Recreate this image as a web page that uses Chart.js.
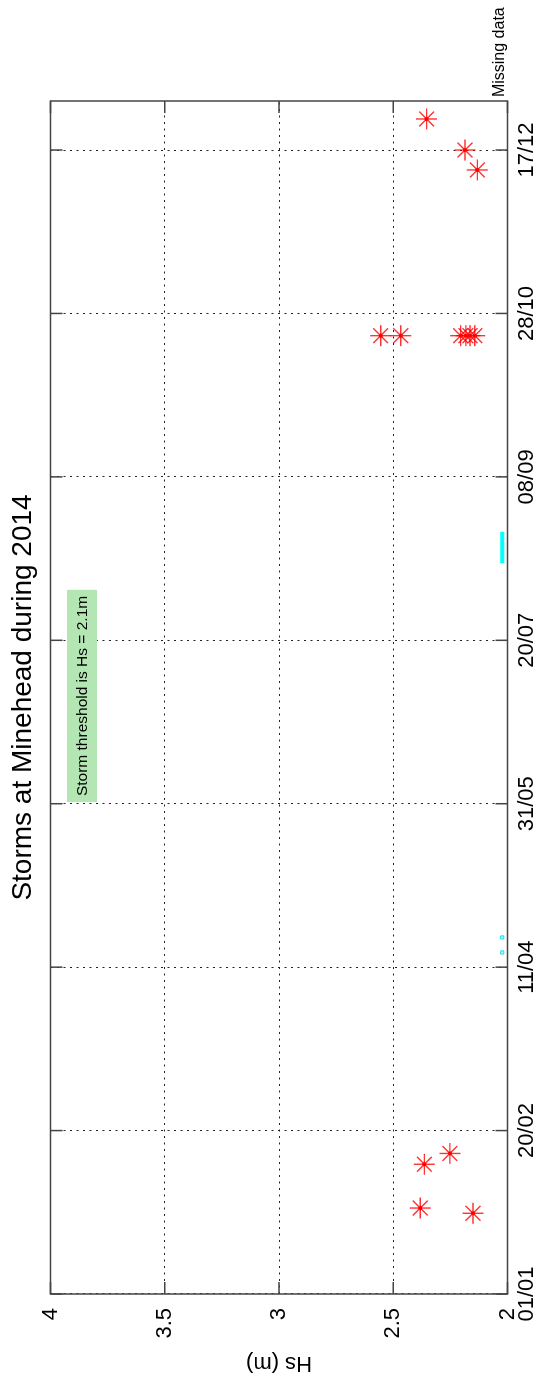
<!DOCTYPE html>
<html lang="en">
<head>
<meta charset="UTF-8" />
<script src="https://cdn.jsdelivr.net/npm/chart.js@4.4.1/dist/chart.umd.min.js"></script>
<style>
	html, body { margin: 0; padding: 0; background: #fff; overflow: hidden; }
	body { width: 542px; height: 1376px; position: relative; }
	/* the figure is drawn landscape and turned a quarter turn */
	#wrap { position: absolute; left: 0; top: 0; width: 1376px; height: 542px;
		transform-origin: 0 0; transform: translate(0, 1376px) rotate(-90deg); }
</style>
</head>
<body>
<div id="wrap"><canvas id="c" width="1376" height="542"></canvas></div>
<script>
// days counted from 01/01/2014
const dayTicks = [0, 50, 100, 150, 200, 250, 300, 350]
const dayLabels = ['01/01', '20/02', '11/04', '31/05', '20/07', '08/09', '28/10', '17/12']
const hsTicks = [2, 2.5, 3, 3.5, 4]
const hsLabels = ['2', '2.5', '3', '3.5', '4']

// storm peaks (Hs above threshold)
const stormDays = [24.7, 26.3, 39.7, 43.0, 293.2, 293.2, 293.2, 293.2, 293.2, 293.2, 343.9, 350.0, 359.5]
const stormHs = [2.151, 2.382, 2.364, 2.252, 2.555, 2.467, 2.205, 2.182, 2.164, 2.143, 2.132, 2.186, 2.354]

// gaps in the record
const missingDays = [104.5, 109.1]
const missingRunStart = [223.6]
const missingRunEnd = [233.2]
const missingLevel = 2.023
const threshold = 2.1

const stormPts = stormDays.map((d, i) => ({ x: d, y: stormHs[i] }))
const runSets = missingRunStart.map((s, i) => ({
	type: 'line',
	data: [{ x: s, y: missingLevel }, { x: missingRunEnd[i], y: missingLevel }],
	borderColor: '#00ffff',
	borderWidth: 4,
	borderCapStyle: 'butt',
	pointRadius: 0,
	showLine: true,
}))

const decorations = {
	id: 'decorations',
	afterDraw(chart) {
		const { ctx, chartArea: a, scales: { x, y } } = chart
		ctx.save()
		// MATLAB style ticks inside the box, both sides
		ctx.strokeStyle = '#444'
		ctx.lineWidth = 1.5
		ctx.beginPath()
		dayTicks.forEach((d) => {
			const px = x.getPixelForValue(d)
			ctx.moveTo(px, a.bottom); ctx.lineTo(px, a.bottom - 12)
			ctx.moveTo(px, a.top); ctx.lineTo(px, a.top + 12)
		})
		hsTicks.forEach((h) => {
			const py = y.getPixelForValue(h)
			ctx.moveTo(a.left, py); ctx.lineTo(a.left + 12, py)
			ctx.moveTo(a.right, py); ctx.lineTo(a.right - 12, py)
		})
		ctx.stroke()
		ctx.strokeRect(a.left, a.top, a.right - a.left, a.bottom - a.top)

		// threshold note
		const note = 'Storm threshold is Hs = ' + threshold + 'm'
		ctx.font = '15.5px "Liberation Sans", Arial, sans-serif'
		const w = ctx.measureText(note).width + 12
		const bx = x.getPixelForValue(150.5)
		const by = y.getPixelForValue(3.862)
		ctx.fillStyle = '#b3e6b3'
		ctx.fillRect(bx, by - 15, w, 30)
		ctx.fillStyle = '#000'
		ctx.textBaseline = 'middle'
		ctx.textAlign = 'left'
		ctx.fillText(note, bx + 6, by + 1)

		// missing data label
		ctx.font = '16px "Liberation Sans", Arial, sans-serif'
		ctx.textBaseline = 'alphabetic'
		ctx.fillText('Missing data', x.getPixelForValue(366.2), y.getPixelForValue(missingLevel) + 2)
		ctx.restore()
	},
}

Chart.defaults.font.family = '"Liberation Sans", Arial, Helvetica, sans-serif'
Chart.defaults.color = '#000'

new Chart(document.getElementById('c').getContext('2d'), {
	type: 'scatter',
	data: {
		datasets: [
			{
				data: stormPts,
				pointStyle: 'star',
				pointRadius: 10.5,
				borderColor: 'rgba(255,0,0,0.8)',
				backgroundColor: 'transparent',
				borderWidth: 1.4,
			},
			{
				data: stormPts,
				pointStyle: 'circle',
				pointRadius: 2,
				backgroundColor: '#ff0000',
				borderWidth: 0,
			},
			{
				data: missingDays.map((d) => ({ x: d, y: missingLevel })),
				pointStyle: 'rect',
				pointRadius: 2.2,
				borderColor: '#00e0f0',
				backgroundColor: '#c8ffff',
				borderWidth: 1,
			},
			...runSets,
		],
	},
	options: {
		responsive: false,
		animation: false,
		events: [],
		layout: { padding: { left: 0, right: 101, top: 0, bottom: 0 } },
		plugins: {
			legend: { display: false },
			tooltip: { enabled: false },
			title: {
				display: true,
				fullSize: false,
				text: 'Storms at Minehead during 2014',
				font: { size: 28, weight: 'normal' },
				color: '#000',
				padding: { top: 6, bottom: 10.9 },
			},
		},
		scales: {
			x: {
				type: 'linear',
				position: 'bottom',
				min: 0,
				max: 365,
				afterBuildTicks: (s) => { s.ticks = dayTicks.map((v) => ({ value: v })) },
				afterFit: (s) => { s.height = 34.5 },
				ticks: {
					callback: (v, i) => dayLabels[i],
					font: { size: 22 },
					color: '#000',
					padding: 6,
					maxRotation: 0,
					autoSkip: false,
				},
				grid: { color: '#222', lineWidth: 1, drawTicks: false },
				border: { display: false, dash: [2, 4.5] },
			},
			y: {
				type: 'linear',
				min: 2,
				max: 4,
				afterBuildTicks: (s) => { s.ticks = hsTicks.map((v) => ({ value: v })) },
				afterFit: (s) => { s.width = 82 },
				ticks: {
					callback: (v, i) => hsLabels[i],
					font: { size: 22 },
					color: '#000',
					padding: 14,
				},
				title: {
					display: true,
					text: 'Hs (m)',
					font: { size: 22 },
					color: '#000',
					padding: { top: 0, bottom: 0 },
				},
				grid: { color: '#222', lineWidth: 1, drawTicks: false },
				border: { display: false, dash: [2, 4.5] },
			},
		},
	},
	plugins: [decorations],
})
</script>
</body>
</html>
